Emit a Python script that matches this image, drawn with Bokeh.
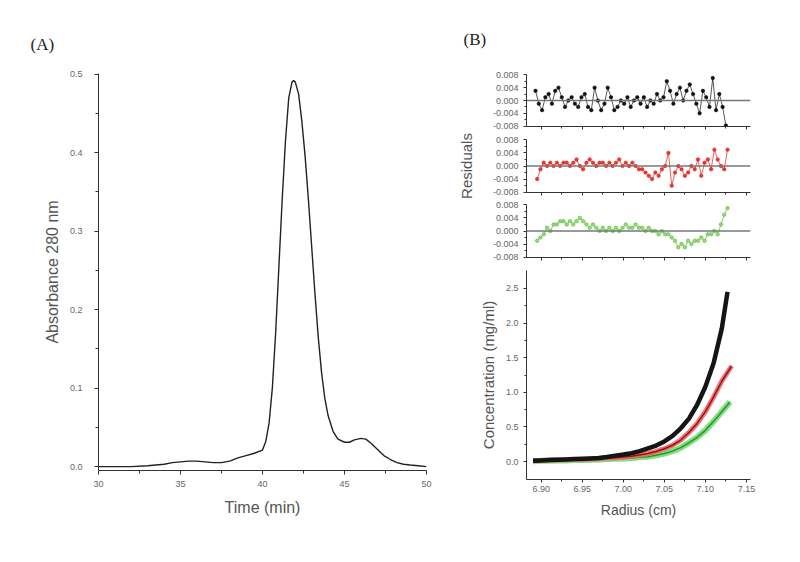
from bokeh.plotting import figure
from bokeh.layouts import row, column
from bokeh.models import FixedTicker, NumeralTickFormatter, Range1d, Span, CustomJSTickFormatter
from bokeh.embed import file_html
from bokeh.resources import INLINE

FONT = "Liberation Sans"
SERIF = "Liberation Serif"

# ---------------- Panel A data (SEC chromatogram) ----------------
time_min = [30, 31, 32, 33, 33.5, 34, 34.5, 35, 35.5, 36, 36.5, 37, 37.5, 38, 38.5, 39, 39.5, 40,
            40.2, 40.4, 40.6, 40.8, 41.0, 41.2, 41.4, 41.6, 41.8, 41.9, 42.0, 42.2, 42.4, 42.6,
            42.8, 43.0, 43.2, 43.4, 43.6, 43.8, 44.0, 44.3, 44.6, 45.0, 45.3, 45.6, 46.0, 46.3,
            46.6, 47.0, 47.4, 47.8, 48.2, 48.6, 49.0, 49.5, 50]
absorbance = [0.0, 0.0, 0.0, 0.001, 0.002, 0.003, 0.005, 0.006, 0.007, 0.007, 0.006, 0.005, 0.005,
              0.007, 0.011, 0.014, 0.017, 0.021, 0.032, 0.055, 0.10, 0.17, 0.255, 0.34, 0.415,
              0.47, 0.49, 0.492, 0.49, 0.475, 0.44, 0.395, 0.34, 0.28, 0.22, 0.165, 0.12, 0.087,
              0.065, 0.045, 0.035, 0.031, 0.031, 0.034, 0.036, 0.035, 0.03, 0.022, 0.014, 0.009,
              0.005, 0.003, 0.002, 0.001, 0.0]
a_xticks = [30, 35, 40, 45, 50]
a_yticks = [0.0, 0.1, 0.2, 0.3, 0.4, 0.5]

# ---------------- Panel B data ----------------
rad_res_black = [6.893, 6.897, 6.901, 6.905, 6.909, 6.913, 6.917, 6.921, 6.925, 6.929, 6.933, 6.937,
                 6.941, 6.945, 6.949, 6.953, 6.957, 6.961, 6.965, 6.969, 6.973, 6.977, 6.981, 6.985,
                 6.989, 6.993, 6.997, 7.001, 7.005, 7.009, 7.013, 7.017, 7.021, 7.025, 7.029, 7.033,
                 7.037, 7.041, 7.045, 7.049, 7.053, 7.057, 7.061, 7.065, 7.069, 7.073, 7.077, 7.081,
                 7.085, 7.089, 7.093, 7.097, 7.101, 7.105, 7.109, 7.113, 7.117, 7.121, 7.125]
res_black = [0.003, -0.001, -0.003, 0.001, 0.002, -0.001, 0.003, 0.004, 0.001, -0.002, 0.0, 0.001,
             -0.001, -0.002, 0.001, 0.002, -0.002, -0.003, 0.004, 0.0, -0.003, -0.001, 0.004, 0.001,
             -0.003, -0.002, 0.0, -0.001, 0.001, -0.002, 0.0, 0.001, -0.001, 0.001, -0.002, 0.0,
             -0.001, 0.002, 0.0, 0.001, 0.006, 0.003, -0.001, 0.002, 0.004, 0.0, 0.003, 0.005,
             0.002, -0.001, -0.004, 0.003, 0.001, -0.002, 0.007, -0.003, 0.002, -0.002, -0.0078]

rad_res_rg = [6.895, 6.899, 6.903, 6.907, 6.911, 6.915, 6.919, 6.923, 6.927, 6.931, 6.935, 6.939,
              6.943, 6.947, 6.951, 6.955, 6.959, 6.963, 6.967, 6.971, 6.975, 6.979, 6.983, 6.987,
              6.991, 6.995, 6.999, 7.003, 7.007, 7.011, 7.015, 7.019, 7.023, 7.027, 7.031, 7.035,
              7.039, 7.043, 7.047, 7.051, 7.055, 7.059, 7.063, 7.067, 7.071, 7.075, 7.079, 7.083,
              7.087, 7.091, 7.095, 7.099, 7.103, 7.107, 7.111, 7.115, 7.119, 7.123, 7.127]
res_red = [-0.004, -0.001, 0.001, 0.0, 0.001, 0.0, 0.001, 0.0, 0.001, 0.001, 0.0, 0.001, 0.002,
           0.0, -0.001, 0.001, 0.002, 0.001, 0.0, 0.001, 0.001, 0.0, 0.001, 0.0, 0.001, 0.002,
           0.0, 0.001, 0.0, 0.001, 0.0, -0.001, -0.001, -0.002, -0.003, -0.004, -0.002, -0.003,
           -0.001, 0.0, 0.004, -0.006, -0.002, 0.0, -0.001, -0.003, -0.002, 0.0, -0.001, 0.002,
           -0.003, 0.001, 0.002, -0.001, 0.005, 0.002, 0.0, -0.001, 0.005]
res_green = [-0.003, -0.002, -0.001, 0.001, 0.0, 0.002, 0.002, 0.003, 0.003, 0.002, 0.003, 0.002,
             0.003, 0.004, 0.003, 0.002, 0.001, 0.002, 0.001, 0.0, 0.001, 0.0, 0.001, 0.0, 0.001,
             0.0, 0.001, 0.002, 0.001, 0.001, 0.002, 0.001, 0.001, 0.0, 0.001, 0.0, 0.0, -0.001,
             0.0, -0.001, -0.001, -0.002, -0.003, -0.005, -0.004, -0.005, -0.003, -0.004, -0.003,
             -0.003, -0.002, -0.003, -0.001, -0.001, 0.0, -0.001, 0.002, 0.005, 0.007]

rad_conc_black = [6.89, 6.90, 6.91, 6.92, 6.93, 6.94, 6.95, 6.96, 6.97, 6.98, 6.99, 7.00, 7.01,
                  7.02, 7.03, 7.04, 7.05, 7.06, 7.07, 7.08, 7.09, 7.10, 7.11, 7.12, 7.127]
conc_black = [0.01, 0.015, 0.02, 0.025, 0.03, 0.035, 0.04, 0.045, 0.05, 0.065, 0.085, 0.10, 0.12,
              0.15, 0.19, 0.23, 0.29, 0.37, 0.48, 0.62, 0.82, 1.08, 1.42, 1.92, 2.45]
rad_conc_red = [6.89, 6.90, 6.91, 6.92, 6.93, 6.94, 6.95, 6.96, 6.97, 6.98, 6.99, 7.00, 7.01,
                7.02, 7.03, 7.04, 7.05, 7.06, 7.07, 7.08, 7.09, 7.10, 7.11, 7.12, 7.132]
conc_red = [0.01, 0.015, 0.02, 0.02, 0.025, 0.03, 0.03, 0.035, 0.04, 0.05, 0.055, 0.065, 0.075,
            0.095, 0.115, 0.145, 0.185, 0.235, 0.31, 0.42, 0.55, 0.72, 0.93, 1.16, 1.38]
rad_conc_green = [6.89, 6.90, 6.91, 6.92, 6.93, 6.94, 6.95, 6.96, 6.97, 6.98, 6.99, 7.00, 7.01,
                  7.02, 7.03, 7.04, 7.05, 7.06, 7.07, 7.08, 7.09, 7.10, 7.11, 7.12, 7.13]
conc_green = [0.005, 0.01, 0.01, 0.015, 0.015, 0.02, 0.02, 0.025, 0.03, 0.035, 0.04, 0.045, 0.05,
              0.06, 0.07, 0.09, 0.115, 0.15, 0.2, 0.27, 0.35, 0.45, 0.58, 0.72, 0.86]

res_yticks = [-0.008, -0.004, 0.0, 0.004, 0.008]
radius_ticks = [6.90, 6.95, 7.00, 7.05, 7.10, 7.15]
conc_yticks = [0.0, 0.5, 1.0, 1.5, 2.0, 2.5]

TICK_FS = "9px"


def base_style(p):
    p.outline_line_color = None
    p.xgrid.visible = False
    p.ygrid.visible = False
    p.background_fill_color = "white"
    p.border_fill_color = "white"
    for ax in p.axis:
        ax.axis_line_color = "#333333"
        ax.axis_line_width = 1
        ax.major_tick_line_color = "#333333"
        ax.minor_tick_line_color = "#333333"
        ax.major_label_text_color = "#666666"
        ax.major_label_text_font = FONT
        ax.axis_label_text_font = FONT
        ax.axis_label_text_font_style = "normal"
        ax.axis_label_text_color = "#555555"
        ax.major_tick_in = 0
        ax.minor_tick_in = 0


def panel_title(p, text, offset, standoff):
    p.title.text = text
    p.title.align = "left"
    p.title.offset = offset
    p.title.standoff = standoff
    p.title.text_font = SERIF
    p.title.text_font_size = "17px"
    p.title.text_font_style = "normal"
    p.title.text_color = "#222222"


# ---------------- Panel A figure ----------------
pa = figure(width=448, height=530, output_backend="svg", toolbar_location=None,
            x_range=Range1d(30, 50), y_range=Range1d(-0.005, 0.501),
            min_border_left=98, min_border_right=22, min_border_top=73, min_border_bottom=60)
pa.line(time_min, absorbance, line_color="#222222", line_width=1.4)
base_style(pa)
panel_title(pa, "(A)", -68, 40)
pa.xaxis.ticker = FixedTicker(ticks=a_xticks, minor_ticks=[32.5, 37.5, 42.5, 47.5])
pa.yaxis.ticker = FixedTicker(ticks=a_yticks, minor_ticks=[0.05, 0.15, 0.25, 0.35, 0.45])
pa.xaxis.formatter = NumeralTickFormatter(format="0")
pa.yaxis.formatter = NumeralTickFormatter(format="0.0")
for ax in pa.axis:
    ax.major_label_text_font_size = TICK_FS
    ax.axis_label_text_font_size = "16px"
    ax.major_tick_out = 4
    ax.minor_tick_out = 3
pa.xaxis.axis_label = "Time (min)"
pa.yaxis.axis_label = "Absorbance 280 nm"
pa.xaxis.major_label_standoff = 6
pa.xaxis.axis_label_standoff = 9
pa.yaxis.major_label_standoff = 12
pa.yaxis.axis_label_standoff = 6

# ---------------- Panel B residual figures ----------------
XR = (6.882, 7.155)


def residual_fig(height, top, bottom, rx, ry, color, fill, msize):
    p = figure(width=330, height=height, output_backend="svg", toolbar_location=None,
               x_range=Range1d(*XR), y_range=Range1d(-0.0081, 0.0081),
               min_border_left=78, min_border_right=28, min_border_top=top, min_border_bottom=bottom)
    p.add_layout(Span(location=0, dimension="width", line_color="#777777", line_width=1.5))
    p.line(rx, ry, line_color=color, line_width=1, line_alpha=0.7)
    p.scatter(rx, ry, size=msize, fill_color=fill, line_color=color, line_width=0.6)
    base_style(p)
    p.yaxis.ticker = FixedTicker(ticks=res_yticks, minor_ticks=[-0.006, -0.002, 0.002, 0.006])
    p.yaxis.formatter = NumeralTickFormatter(format="0.000")
    p.xaxis.ticker = FixedTicker(ticks=radius_ticks, minor_ticks=[6.925, 6.975, 7.025, 7.075, 7.125])
    p.xaxis.formatter = CustomJSTickFormatter(code="return ''")
    for ax in p.axis:
        ax.major_label_text_font_size = TICK_FS
        ax.major_tick_out = 3
        ax.minor_tick_out = 2
    p.yaxis.major_label_standoff = 5
    p.xaxis.major_label_standoff = 0
    p.xaxis.major_label_text_font_size = "1px"
    return p


r1 = residual_fig(132, 74, 6, rad_res_black, res_black, "#111111", "#111111", 3.5)
r2 = residual_fig(66, 7, 6, rad_res_rg, res_red, "#e0201a", "#e83a30", 3.5)
r3 = residual_fig(65, 6, 6, rad_res_rg, res_green, "#55b833", "#9ad87e", 3.5)

panel_title(r1, "(B)", -63, 51)
r2.yaxis.axis_label = "Residuals"
r2.yaxis.axis_label_text_font_size = "15px"
r2.yaxis.axis_label_standoff = 15

# ---------------- Concentration figure ----------------
pc = figure(width=330, height=276, output_backend="svg", toolbar_location=None,
            x_range=Range1d(*XR), y_range=Range1d(-0.26, 2.76),
            min_border_left=78, min_border_right=28, min_border_top=7, min_border_bottom=60)
pc.line(rad_conc_green, conc_green, line_color="#78d878", line_width=6, line_alpha=0.9)
pc.line(rad_conc_green, conc_green, line_color="#1f9a1f", line_width=1.5)
pc.line(rad_conc_red, conc_red, line_color="#e86868", line_width=5, line_alpha=0.9)
pc.line(rad_conc_red, conc_red, line_color="#a01010", line_width=1.5)
pc.line(rad_conc_black, conc_black, line_color="#151515", line_width=4.5)
base_style(pc)
pc.xaxis.ticker = FixedTicker(ticks=radius_ticks, minor_ticks=[6.925, 6.975, 7.025, 7.075, 7.125])
pc.yaxis.ticker = FixedTicker(ticks=conc_yticks, minor_ticks=[0.25, 0.75, 1.25, 1.75, 2.25])
pc.xaxis.formatter = NumeralTickFormatter(format="0.00")
pc.yaxis.formatter = NumeralTickFormatter(format="0.0")
for ax in pc.axis:
    ax.major_label_text_font_size = TICK_FS
    ax.axis_label_text_font_size = "15px"
    ax.major_tick_out = 3
    ax.minor_tick_out = 2
pc.xaxis.axis_label = "Radius (cm)"
pc.xaxis.axis_label_text_font_size = "14px"
pc.yaxis.axis_label = "Concentration (mg/ml)"
pc.xaxis.major_label_standoff = 3
pc.xaxis.axis_label_standoff = 7
pc.yaxis.major_label_standoff = 5
pc.yaxis.axis_label_standoff = 6

layout = row(pa, column(r1, r2, r3, pc))
open("out.html", "w").write(file_html(layout, INLINE))
